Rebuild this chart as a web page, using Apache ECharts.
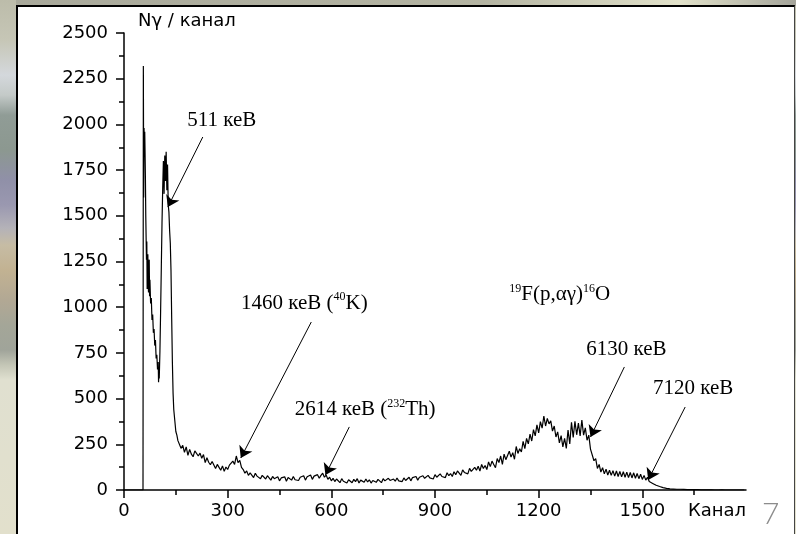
<!DOCTYPE html>
<html>
<head>
<meta charset="utf-8">
<script src="https://cdn.jsdelivr.net/npm/echarts@6/dist/echarts.min.js"></script>
<style>
  html, body { margin: 0; padding: 0; }
  body {
    width: 796px; height: 534px; overflow: hidden; position: relative;
    background: linear-gradient(to bottom,
      #bcbcaa 0px, #c6c6b6 40px, #d4d8dc 75px, #c4cac8 95px, #909c96 115px,
      #8c9890 150px, #9090a8 180px, #9a98b0 205px, #b4b2b8 228px, #c6bca4 245px,
      #c2b292 270px, #b2a894 300px, #a4a698 325px, #a0a49a 350px, #c4c6b6 365px,
      #e0e0d0 380px, #e2e0cc 534px);
  }
  #strip {
    position: absolute; left: 16px; top: 0; width: 780px; height: 6px;
    background: linear-gradient(to right, #a9a99b 0%, #b4b4a2 60%, #e2e2ca 85%, #a4a49a 100%);
  }
  #panel {
    position: absolute; left: 16px; top: 5px; width: 776px; height: 540px;
    background: #fff; border-left: 2px solid #000; border-top: 2px solid #000;
    border-right: 1px solid #444;
  }
  #main { position: absolute; left: 0; top: 0; width: 796px; height: 534px; }
</style>
</head>
<body>
<div id="strip"></div>
<div id="panel"></div>
<div id="main"></div>
<script>
var myChart = echarts.init(document.getElementById('main'));

// спектр: область пиков по отдельным каналам
var peakChannels = [0, 55, 56, 57, 58, 59, 60, 61, 62, 63, 64, 65, 66, 67, 68, 69, 70, 71, 72, 73,
  74, 75, 77, 79, 81, 83, 85, 87, 89, 91, 93, 95, 97, 99, 100, 101, 102, 104, 106, 108,
  110, 112, 114, 116, 118, 120, 122, 124, 126, 128, 130, 132, 134, 136, 138, 140, 142, 144, 147, 150,
  153, 156];
var peakCounts = [0, 0, 2320, 1600, 1980, 1860, 1960, 1840, 1700, 1500, 1380, 1260, 1360, 1100, 1250, 1290, 1120, 1080, 1240, 1260,
  1060, 1150, 1020, 1050, 930, 960, 860, 880, 790, 820, 720, 740, 660, 700, 590, 640, 610, 760, 980, 1220,
  1460, 1650, 1800, 1620, 1830, 1690, 1850, 1640, 1780, 1560, 1520, 1420, 1350, 1200, 940, 700, 530, 440, 380, 320,
  300, 270];

// дальше спектр через каждые 5 каналов, начиная со 160
var tailStart = 160;
var tailStep = 5;
var tailCounts = [
  262, 228, 244, 206, 236, 190, 222, 196, 182, 214,
  220, 186, 202, 174, 194, 150, 176, 152, 138, 156,
  146, 118, 140, 124, 108, 132, 102, 126, 112, 136,
  128, 158, 140, 186, 150, 162, 124, 112, 92, 104,
  80, 94, 84, 68, 92, 76, 86, 62, 80, 72,
  60, 78, 70, 54, 74, 62, 56, 72, 50, 66,
  58, 72, 48, 68, 62, 54, 74, 56, 66, 52,
  70, 60, 78, 54, 72, 66, 82, 58, 76, 68,
  84, 64, 80, 92, 70, 82, 58, 70, 50, 64,
  46, 60, 52, 40, 62, 48, 58, 38, 56, 50,
  40, 58, 46, 62, 38, 54, 50, 42, 60, 44,
  56, 38, 52, 60, 42, 58, 48, 40, 62, 50,
  44, 64, 52, 42, 60, 48, 66, 50, 58, 46,
  66, 52, 62, 70, 50, 68, 58, 74, 54, 70,
  60, 78, 64, 56, 80, 66, 76, 60, 84, 70,
  66, 88, 74, 82, 68, 94, 78, 90, 74, 100,
  84, 104, 92, 80, 110, 96, 106, 88, 118, 102,
  96, 124, 108, 130, 104, 140, 118, 134, 112, 154,
  128, 158, 140, 122, 172, 150, 186, 140, 196, 166,
  158, 212, 180, 204, 168, 238, 200, 226, 208, 266,
  226, 282, 252, 306, 268, 330, 296, 356, 312, 374,
  338, 404, 350, 392, 362, 378, 322, 350, 290, 318,
  258, 298, 236, 282, 228, 328, 252, 370, 288, 376,
  302, 366, 296, 382, 300, 340, 272, 300, 224, 230,
  160, 172, 118, 140, 98, 122, 88, 114, 82, 108,
  80, 106, 76, 104, 74, 102, 72, 100, 70, 98,
  68, 96, 66, 94, 64, 90, 62, 86, 58, 80,
  54, 70, 46, 56, 36, 42, 26, 32, 19, 24,
  13, 17, 9, 12, 6, 9, 5, 7, 4, 5,
  4, 3, 3, 3, 2, 3, 2, 2, 2, 1,
  2, 1, 1, 1, 1, 1, 1, 0, 1, 0,
  0, 1, 0, 0, 1, 0, 0, 0, 0, 0,
  0, 0, 0, 0, 0, 0, 0, 0
];

var xTicks = [0, 300, 600, 900, 1200, 1500];

// подписи линий и стрелки к ним
var noteTexts = [
  '{t|511 кеВ}',
  '{t|1460 кеВ (}{s|40}{t|K)}',
  '{t|2614 кеВ (}{s|232}{t|Th)}',
  '{s|19}{t|F(p,αγ)}{s|16}{t|O}',
  '{t|6130 кеВ}',
  '{t|7120 кеВ}'
];
var notePos = [[283, 2024], [522, 1023], [698, 438], [1261, 1067], [1454, 766], [1647, 558]];
var arrowFrom = [[228, 1931], [542, 919], [652, 345], [1448, 673], [1624, 454]];
var arrowTo = [[127, 1548], [338, 175], [583, 82], [1350, 290], [1517, 55]];

var spectrum = [];
for (var i = 0; i < peakChannels.length; i++) {
  spectrum.push([peakChannels[i], peakCounts[i]]);
}
for (var j = 0; j < tailCounts.length; j++) {
  spectrum.push([tailStart + j * tailStep, tailCounts[j]]);
}

var notes = [];
for (var k = 0; k < noteTexts.length; k++) {
  notes.push({ coord: notePos[k], value: noteTexts[k] });
}
var arrows = [];
for (var m = 0; m < arrowFrom.length; m++) {
  arrows.push([{ coord: arrowFrom[m] }, { coord: arrowTo[m] }]);
}

var serif = 'Liberation Serif';
var sans = 'DejaVu Sans';
var plain = function (v) { return String(v); };

option = {
  animation: false,
  backgroundColor: 'transparent',
  grid: { left: 124, right: 50, top: 33, bottom: 44 },
  xAxis: {
    type: 'value',
    min: 0,
    max: 1800,
    interval: 300,
    name: 'Канал',
    nameLocation: 'end',
    nameGap: 0,
    nameTextStyle: {
      fontFamily: sans, fontSize: 18, color: '#000',
      align: 'right', verticalAlign: 'top', padding: [12, 0, 0, 0]
    },
    splitLine: { show: false },
    axisLine: { show: true, onZero: false, lineStyle: { color: '#000', width: 1.5 } },
    axisTick: { show: true, length: 8, customValues: xTicks, lineStyle: { color: '#000', width: 1.5 } },
    minorTick: { show: true, splitNumber: 2, length: 5, lineStyle: { color: '#000', width: 1.5 } },
    axisLabel: { customValues: xTicks, formatter: plain, margin: 12, fontFamily: sans, fontSize: 18, color: '#000' }
  },
  yAxis: {
    type: 'value',
    min: 0,
    max: 2500,
    interval: 250,
    name: 'Nγ / канал',
    nameLocation: 'end',
    nameGap: 3,
    nameTextStyle: {
      fontFamily: sans, fontSize: 18, color: '#000',
      align: 'left', verticalAlign: 'bottom', padding: [0, 0, 0, 14]
    },
    splitLine: { show: false },
    axisLine: { show: true, lineStyle: { color: '#000', width: 1.5 } },
    axisTick: { show: true, length: 8, lineStyle: { color: '#000', width: 1.5 } },
    minorTick: { show: true, splitNumber: 2, length: 5, lineStyle: { color: '#000', width: 1.5 } },
    axisLabel: { formatter: plain, margin: 16, fontFamily: sans, fontSize: 18, color: '#000' }
  },
  graphic: [
    {
      type: 'text',
      left: 762,
      top: 499,
      style: { text: '7', fontFamily: 'Lato', fontWeight: 300, fontSize: 30, fill: '#8c8c8c' }
    }
  ],
  series: [
    {
      type: 'line',
      data: spectrum,
      showSymbol: false,
      sampling: null,
      silent: true,
      lineStyle: { color: '#000', width: 1.2 },
      markLine: {
        silent: true,
        symbol: ['none', 'arrow'],
        symbolSize: 11,
        label: { show: false },
        emphasis: { disabled: true },
        lineStyle: { type: 'solid', color: '#000', width: 1 },
        data: arrows
      },
      markPoint: {
        silent: true,
        symbol: 'rect',
        symbolSize: 1,
        itemStyle: { color: 'transparent' },
        label: {
          show: true,
          position: 'inside',
          formatter: function (p) { return p.value; },
          rich: {
            t: { fontFamily: serif, fontSize: 21, lineHeight: 24, color: '#000' },
            s: { fontFamily: serif, fontSize: 12, lineHeight: 13, color: '#000', verticalAlign: 'top' }
          }
        },
        data: notes
      }
    }
  ]
};

myChart.setOption(option);
</script>
</body>
</html>
